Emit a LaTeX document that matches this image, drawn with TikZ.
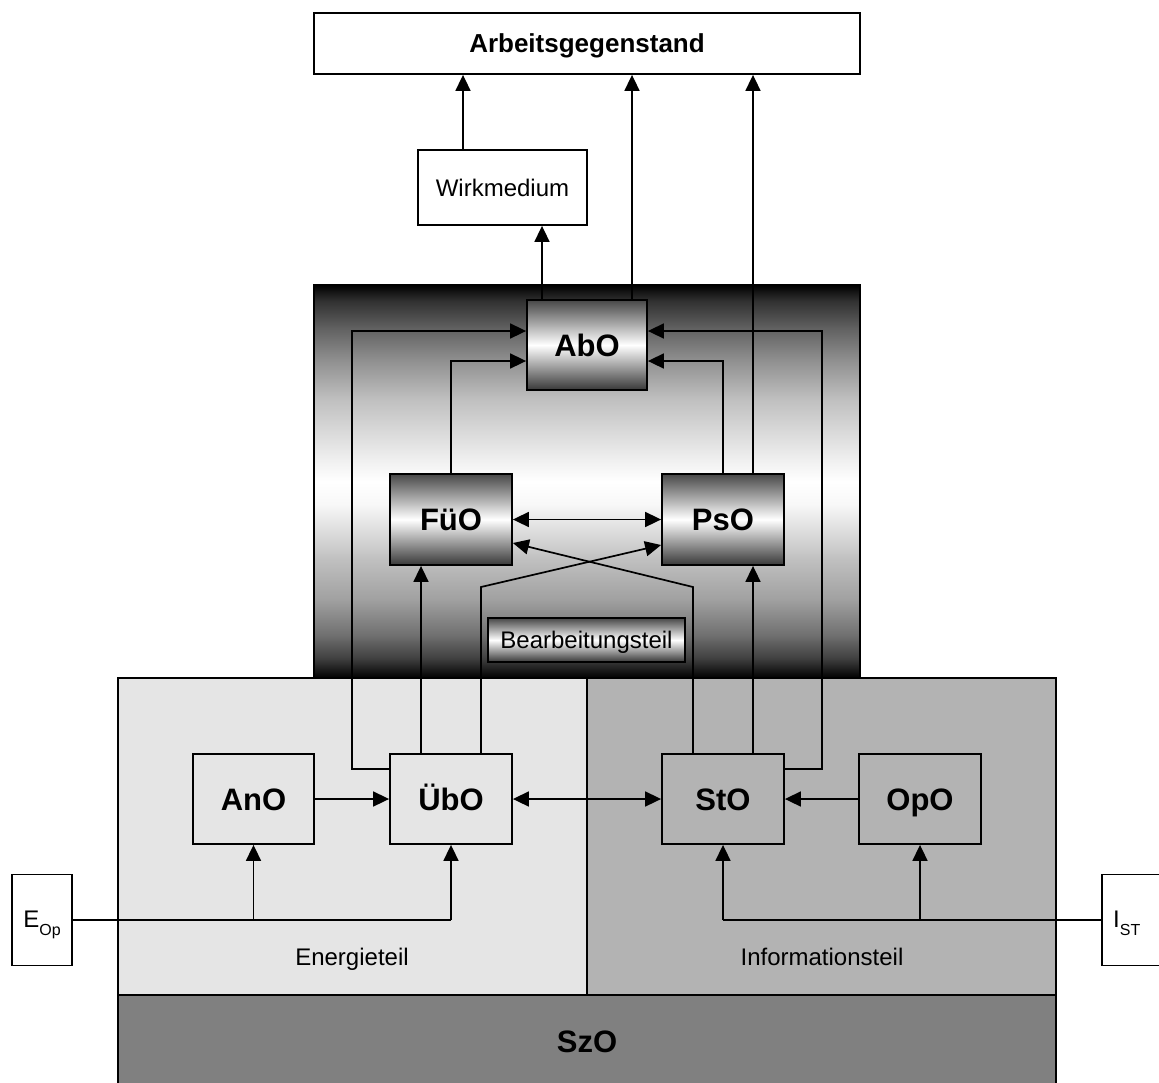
\documentclass[tikz,border=0pt]{standalone}
\usepackage{fontspec}
\setmainfont{Liberation Sans}
\usetikzlibrary{arrows.meta}
\definecolor{energyfill}{gray}{0.898}
\definecolor{infofill}{gray}{0.702}
\definecolor{szofill}{gray}{0.5}
% dark - white - dark band for the processing part
\pgfdeclareverticalshading{panelshade}{100bp}{gray(0bp)=(0); gray(25bp)=(0); gray(27.5bp)=(0.25); gray(30.5bp)=(0.44); gray(35bp)=(0.63); gray(40bp)=(0.75); gray(47bp)=(0.97); gray(50bp)=(1); gray(52.75bp)=(0.94); gray(60.5bp)=(0.75); gray(65.5bp)=(0.56); gray(69.5bp)=(0.38); gray(73bp)=(0.19); gray(75bp)=(0); gray(100bp)=(0)}
\begin{document}
\begin{tikzpicture}[x=1pt,y=-1pt,
  obox/.style={draw, line width=1.8pt, inner sep=0pt, text depth=0pt},
  boldlbl/.style={font=\bfseries\fontsize{31}{31}\selectfont, text height=22.2pt, text depth=0pt},
  plainlbl/.style={font=\fontsize{24}{24}\selectfont, text height=17.2pt, text depth=0pt},
  titlelbl/.style={font=\bfseries\fontsize{26}{26}\selectfont, text height=18.6pt, text depth=0pt},
  shadebox/.style={top color=black!72, bottom color=black!78, middle color=white},
  conn/.style={line width=1.7pt},
  arr/.style={conn, -{Triangle[length=16pt,width=15pt]}},
  darr/.style={conn, {Triangle[length=16pt,width=15pt]}-{Triangle[length=16pt,width=15pt]}},
  panel/.style={draw, line width=1.8pt}]
\useasboundingbox (0,0) rectangle (1159,1082);
\clip (0,0) rectangle (1159,1082);

% energy / information parts and SzO base
\draw[panel, fill=energyfill] (118,678) rectangle (587,995);
\draw[panel, fill=infofill] (587,678) rectangle (1056,995);
\draw[panel, fill=szofill] (118,995) rectangle (1056,1100);

% processing part
\shade[shading=panelshade] (314,285) rectangle (860,678);
\draw[panel] (314,285) rectangle (860,678);

% boxes
\node[obox, fill=white, titlelbl, minimum width=546pt, minimum height=61pt] (arb) at (587,43.5) {Arbeitsgegenstand};
\node[obox, fill=white, plainlbl, minimum width=169pt, minimum height=75pt] (wirk) at (502.5,187.5) {Wirkmedium};
\node[obox, shadebox, boldlbl, minimum width=120pt, minimum height=90pt] (abo) at (587,345) {AbO};
\node[obox, shadebox, boldlbl, minimum width=122pt, minimum height=91pt] (fuo) at (451,519.5) {FüO};
\node[obox, shadebox, boldlbl, minimum width=122pt, minimum height=91pt] (pso) at (723,519.5) {PsO};
\node[obox, shadebox, plainlbl, minimum width=197pt, minimum height=44pt] (bearb) at (586.5,640) {Bearbeitungsteil};
\node[obox, fill=energyfill, boldlbl, minimum width=121pt, minimum height=90pt] (ano) at (253.5,799) {AnO};
\node[obox, fill=energyfill, boldlbl, minimum width=122pt, minimum height=90pt] (ubo) at (451,799) {ÜbO};
\node[obox, fill=infofill, boldlbl, minimum width=122pt, minimum height=90pt] (sto) at (723,799) {StO};
\node[obox, fill=infofill, boldlbl, minimum width=122pt, minimum height=90pt] (opo) at (920,799) {OpO};
\node[obox, fill=white, minimum width=60pt, minimum height=91pt] (eop) at (42,920) {};
\node[obox, fill=white, minimum width=68pt, minimum height=91pt] (ist) at (1136,920) {};

% labels
\node[font=\fontsize{24}{24}\selectfont, anchor=base, inner sep=0pt] (eoplbl) at (42,927) {E\raisebox{-8pt}{\fontsize{16}{16}\selectfont Op}};
\node[font=\fontsize{24}{24}\selectfont, anchor=base west, inner sep=0pt] (istlbl) at (1113,927) {I\raisebox{-8pt}{\fontsize{16}{16}\selectfont ST}};
\node[plainlbl, inner sep=0pt] (energylbl) at (352,957) {Energieteil};
\node[plainlbl, inner sep=0pt] (infolbl) at (822,957) {Informationsteil};
\node[boldlbl, inner sep=0pt] (szolbl) at (587,1041) {SzO};

% routing levels and columns
\coordinate (yA) at (0,331);
\coordinate (yB) at (0,361);
\coordinate (yC) at (0,769);
\coordinate (yD) at (0,587);
\coordinate (yF) at (0,545);
\coordinate (yG) at (0,543);
\coordinate (xL) at (352,0);
\coordinate (xR) at (822,0);
\coordinate (x421) at (421,0);
\coordinate (x481) at (481,0);
\coordinate (x693) at (693,0);
\coordinate (x753) at (753,0);
\coordinate (x463) at (463,0);
\coordinate (x542) at (542,0);
\coordinate (x632) at (632,0);

% upward outputs
\draw[arr] (wirk.north -| x463) -- (arb.south -| x463);
\draw[arr] (abo.north -| x542) -- (wirk.south -| x542);
\draw[arr] (abo.north -| x632) -- (arb.south -| x632);
\draw[arr] (pso.north -| x753) -- (arb.south -| x753);

% feedback into AbO
\draw[arr] (fuo.north) -- (fuo.north |- yB) -- (abo.west |- yB);
\draw[arr] (pso.north) -- (pso.north |- yB) -- (abo.east |- yB);
\draw[arr] (ubo.west |- yC) -- (xL |- yC) -- (xL |- yA) -- (abo.west |- yA);
\draw[arr] (sto.east |- yC) -- (xR |- yC) -- (xR |- yA) -- (abo.east |- yA);

% FüO / PsO links
\draw[darr] (fuo.east) -- (pso.west);
\draw[arr] (ubo.north -| x421) -- (fuo.south -| x421);
\draw[arr] (ubo.north -| x481) -- (x481 |- yD) -- (pso.west |- yF);
\draw[arr] (sto.north -| x693) -- (x693 |- yD) -- (fuo.east |- yG);
\draw[arr] (sto.north -| x753) -- (pso.south -| x753);

% lower level
\draw[arr] (ano.east) -- (ubo.west);
\draw[darr] (ubo.east) -- (sto.west);
\draw[arr] (opo.west) -- (sto.east);

% inputs
\draw[conn] (eop.east) -- (ubo.south |- eop.east);
\draw[arr] (ano.south |- eop.east) -- (ano.south);
\draw[arr] (ubo.south |- eop.east) -- (ubo.south);
\draw[conn] (ist.west) -- (sto.south |- ist.west);
\draw[arr] (opo.south |- ist.west) -- (opo.south);
\draw[arr] (sto.south |- ist.west) -- (sto.south);
\end{tikzpicture}
\end{document}
